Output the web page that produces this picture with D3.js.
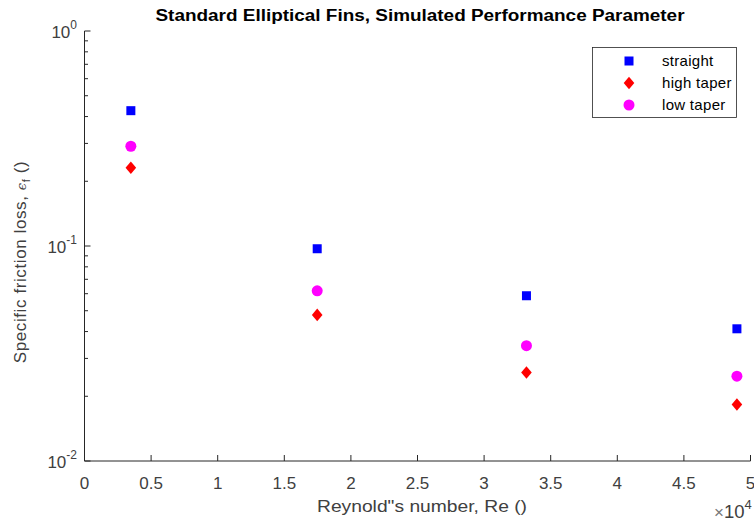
<!DOCTYPE html>
<html>
<head>
<meta charset="utf-8">
<script src="https://d3js.org/d3.v7.min.js"></script>
<style>
body { margin: 0; background: #fff; }
svg { display: block; font-family: "Liberation Sans", Arial, sans-serif; }
</style>
</head>
<body>
<svg id="chart" width="754" height="521"></svg>
<script>
// Reynolds numbers and friction loss values
var reynolds = [3480, 17470, 33180, 48980];
var straight = [0.426, 0.0971, 0.0587, 0.0412];
var highTaper = [0.231, 0.0478, 0.0258, 0.0183];
var lowTaper = [0.291, 0.0619, 0.0344, 0.0248];
var xTicks = [0, 0.5, 1, 1.5, 2, 2.5, 3, 3.5, 4, 4.5, 5];
var yDecades = [-2, -1, 0];
var seriesNames = ["straight", "high taper", "low taper"];

var svg = d3.select("#chart");
var plotL = 84.5, plotR = 750.5, plotT = 31, plotB = 461;
var ink = "#262626";
var tickCol = "#404040";

var xScale = d3.scaleLinear().domain([0, 50000]).range([plotL, plotR]);
var yScale = d3.scaleLog().domain([0.01, 1]).range([plotB, plotT]);

// title
svg.append("text")
  .attr("x", 420).attr("y", 21)
  .attr("text-anchor", "middle")
  .attr("font-size", 16).attr("font-weight", "bold")
  .attr("textLength", 529).attr("lengthAdjust", "spacingAndGlyphs")
  .attr("fill", "#000")
  .text("Standard Elliptical Fins, Simulated Performance Parameter");

// x axis
var g = svg.append("g");
g.append("line")
  .attr("x1", plotL).attr("x2", plotR).attr("y1", plotB).attr("y2", plotB)
  .attr("stroke", ink).attr("stroke-width", 1);
xTicks.forEach(function(t) {
  var x = xScale(t * 10000);
  g.append("line").attr("x1", x).attr("x2", x).attr("y1", plotB).attr("y2", plotB - 6)
    .attr("stroke", ink);
  g.append("text").attr("x", x).attr("y", 489)
    .attr("text-anchor", "middle").attr("font-size", 17).attr("fill", tickCol)
    .text(t);
});
var ex = svg.append("text").attr("x", 714).attr("y", 518)
  .attr("font-size", 18.5).attr("fill", tickCol);
ex.append("tspan").attr("font-size", 17).attr("fill", "#777").text("\u00d7");
ex.append("tspan").text("10");
ex.append("tspan").attr("dy", -9).attr("font-size", 13).text("4");

// y axis
g.append("line")
  .attr("x1", plotL).attr("x2", plotL).attr("y1", plotT).attr("y2", plotB)
  .attr("stroke", ink).attr("stroke-width", 1);
yDecades.forEach(function(d) {
  var y = yScale(Math.pow(10, d));
  g.append("line").attr("x1", plotL).attr("x2", plotL + 6).attr("y1", y).attr("y2", y)
    .attr("stroke", ink);
  var t = g.append("text").attr("x", 77).attr("y", y + 7)
    .attr("text-anchor", "end").attr("font-size", 17).attr("fill", tickCol);
  t.append("tspan").text("10");
  t.append("tspan").attr("dy", -9).attr("font-size", 12).text(d);
  if (d < 0) {
    for (var m = 2; m <= 9; m++) {
      var ym = yScale(m * Math.pow(10, d));
      g.append("line").attr("x1", plotL).attr("x2", plotL + 3.5).attr("y1", ym).attr("y2", ym)
        .attr("stroke", ink);
    }
  }
});

// axis labels
svg.append("text")
  .attr("x", 422).attr("y", 512)
  .attr("text-anchor", "middle").attr("font-size", 17).attr("fill", tickCol)
  .attr("textLength", 210).attr("lengthAdjust", "spacingAndGlyphs")
  .text("Reynold\"s number, Re ()");

var yl = svg.append("text")
  .attr("transform", "translate(26,262) rotate(-90)")
  .attr("text-anchor", "middle").attr("font-size", 17).attr("fill", tickCol)
  .attr("letter-spacing", 0.6);
yl.append("tspan").text("Specific friction loss, ");
yl.append("tspan").attr("font-style", "italic").attr("font-family", "DejaVu Serif").attr("font-size", 13).text("\u03f5");
yl.append("tspan").attr("dy", 4).attr("font-size", 11).text("f");
yl.append("tspan").attr("dy", -4).text(" ()");

// markers
function drawMarker(sel, type, x, y) {
  if (type === 0) {
    sel.append("rect").attr("x", x - 4.5).attr("y", y - 4.5).attr("width", 9).attr("height", 9)
      .attr("fill", "#0000ff");
  } else if (type === 1) {
    sel.append("path")
      .attr("d", "M" + x + "," + (y - 6.3) + "L" + (x + 5.3) + "," + y + "L" + x + "," + (y + 6.3) + "L" + (x - 5.3) + "," + y + "Z")
      .attr("fill", "#ff0000");
  } else {
    sel.append("circle").attr("cx", x).attr("cy", y).attr("r", 5.5).attr("fill", "#ff00ff");
  }
}

var seriesData = [straight, highTaper, lowTaper];
var pts = svg.append("g");
seriesData.forEach(function(vals, si) {
  vals.forEach(function(v, i) {
    drawMarker(pts, si, xScale(reynolds[i]), yScale(v));
  });
});

// legend
var lg = svg.append("g");
lg.append("rect").attr("x", 592.5).attr("y", 47.5).attr("width", 144).attr("height", 70)
  .attr("fill", "#fff").attr("stroke", ink).attr("stroke-width", 0.8);
seriesNames.forEach(function(name, i) {
  var y = 61 + i * 22;
  drawMarker(lg, i, 629, y);
  lg.append("text").attr("x", 662).attr("y", y + 5)
    .attr("font-size", 15).attr("letter-spacing", 0.3).attr("fill", "#000").text(name);
});
</script>
</body>
</html>
